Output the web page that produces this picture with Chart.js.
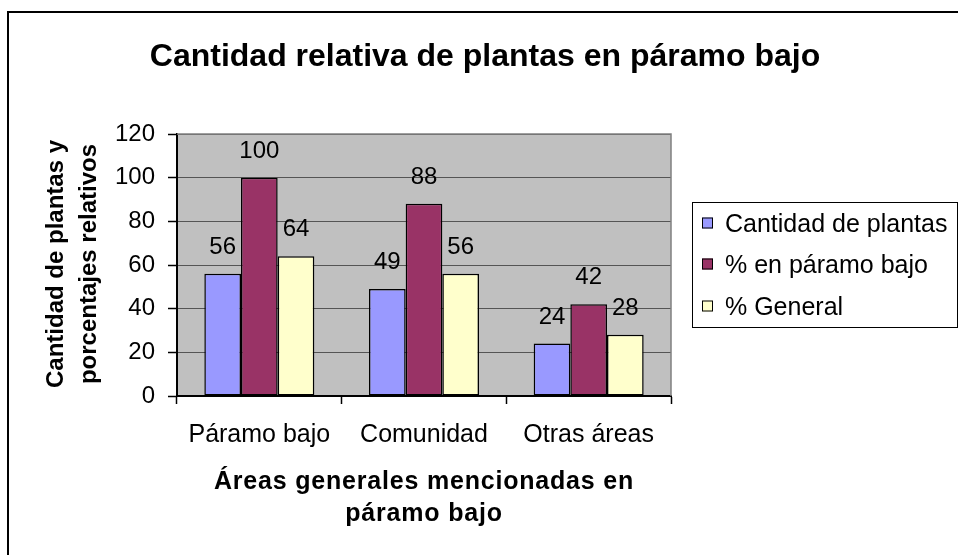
<!DOCTYPE html>
<html><head><meta charset="utf-8">
<script src="https://cdn.jsdelivr.net/npm/chart.js@4/dist/chart.umd.min.js"></script>
<style>html,body{margin:0;padding:0;background:#fff;overflow:hidden}#wrap{position:absolute;left:0;top:0;width:958px;height:555px}</style>
</head><body><div id="wrap"><canvas id="c" width="958" height="555"></canvas></div>
<script>
const chartTitle = 'Cantidad relativa de plantas en páramo bajo';
const categories = ['Páramo bajo', 'Comunidad', 'Otras áreas'];
const seriesNames = ['Cantidad de plantas', '% en páramo bajo', '% General'];
const cantidadPlantas = [56, 49, 24];
const pctParamoBajo = [100, 88, 42];
const pctGeneral = [64, 56, 28];
const yTicks = [0, 20, 40, 60, 80, 100, 120];
const yTitle = ['Cantidad de plantas y', 'porcentajes relativos'];
const xTitle = ['Áreas generales mencionadas en', 'páramo bajo'];
const seriesColors = ['#9999FF', '#993366', '#FFFFCC'];

const FONT = "'Liberation Sans', Arial, Helvetica, sans-serif";
Chart.defaults.font.family = FONT;
Chart.defaults.color = '#000';

const decor = {
  id: 'decor',
  beforeDraw(chart) {
    const {ctx, chartArea: a} = chart;
    ctx.save();
    ctx.fillStyle = '#fff';
    ctx.fillRect(0, 0, chart.width, chart.height);
    ctx.fillStyle = '#C0C0C0';
    ctx.fillRect(a.left, a.top, a.right - a.left, a.bottom - a.top);
    ctx.restore();
  },
  afterDatasetsDraw(chart) {
    const ctx = chart.ctx;
    ctx.save();
    ctx.font = '24px ' + FONT;
    ctx.fillStyle = '#000';
    ctx.textAlign = 'center';
    ctx.textBaseline = 'alphabetic';
    chart.data.datasets.forEach((ds, i) => {
      chart.getDatasetMeta(i).data.forEach((el, j) => {
        ctx.fillText(String(ds.data[j]), el.x, el.y - 20);
      });
    });
    ctx.restore();
  },
  afterDraw(chart) {
    const {ctx, chartArea: a} = chart;
    ctx.save();
    // plot area top/right border
    ctx.strokeStyle = '#808080';
    ctx.lineWidth = 1.5;
    ctx.beginPath();
    ctx.moveTo(a.left, a.top);
    ctx.lineTo(a.right, a.top);
    ctx.lineTo(a.right, a.bottom);
    ctx.stroke();
    // outer frame
    ctx.strokeStyle = '#000';
    ctx.lineWidth = 2;
    ctx.strokeRect(8, 12, 1100, 700);
    // title
    ctx.fillStyle = '#000';
    ctx.textAlign = 'center';
    ctx.textBaseline = 'alphabetic';
    ctx.font = 'bold 32px ' + FONT;
    ctx.fillText(chartTitle, 485, 66);
    // y axis title
    ctx.font = 'bold 24px ' + FONT;
    ctx.textBaseline = 'middle';
    const yc = 264;
    [56, 89].forEach((x, i) => {
      ctx.save();
      ctx.translate(x, yc);
      ctx.rotate(-Math.PI / 2);
      ctx.fillText(yTitle[i], 0, 0);
      ctx.restore();
    });
    // x axis title
    ctx.textBaseline = 'alphabetic';
    ctx.font = 'bold 25px ' + FONT;
    if ('letterSpacing' in ctx) ctx.letterSpacing = '0.8px';
    const xc = (a.left + a.right) / 2;
    ctx.fillText(xTitle[0], xc, 489);
    ctx.fillText(xTitle[1], xc, 521);
    if ('letterSpacing' in ctx) ctx.letterSpacing = '0px';
    // legend
    ctx.strokeStyle = '#000';
    ctx.lineWidth = 1;
    ctx.strokeRect(692.5, 202.5, 265, 125);
    ctx.font = '25px ' + FONT;
    ctx.textAlign = 'left';
    const baselines = [232, 273, 315];
    chart.data.datasets.forEach((ds, i) => {
      const b = baselines[i];
      ctx.fillStyle = ds.backgroundColor;
      ctx.fillRect(702, b - 14.5, 11, 11);
      ctx.strokeStyle = '#000';
      ctx.strokeRect(702.5, b - 14, 10, 10);
      ctx.fillStyle = '#000';
      ctx.fillText(ds.label, 725, b);
    });
    ctx.restore();
  }
};

const mk = (i, data) => ({
  label: seriesNames[i], data, backgroundColor: seriesColors[i],
  borderColor: '#000', borderWidth: 1.5, borderSkipped: false,
  categoryPercentage: 0.668, barPercentage: 1
});

new Chart(document.getElementById('c'), {
  type: 'bar',
  data: {
    labels: categories,
    datasets: [mk(0, cantidadPlantas), mk(1, pctParamoBajo), mk(2, pctGeneral)]
  },
  options: {
    responsive: false, animation: false, devicePixelRatio: 1,
    layout: {padding: {top: 134, right: 287, left: 0, bottom: 0}},
    plugins: {legend: {display: false}, title: {display: false}, tooltip: {enabled: false}},
    scales: {
      x: {
        grid: {display: true, drawOnChartArea: false, drawTicks: true, tickLength: 8, tickColor: '#000', tickWidth: 1.5, offset: true},
        border: {display: true, color: '#000', width: 2},
        ticks: {font: {size: 25}, color: '#000', padding: 16, maxRotation: 0, autoSkip: false},
        afterFit: s => { s.height = 159; }
      },
      y: {
        min: 0, max: 120,
        afterBuildTicks: s => { s.ticks = yTicks.map(v => ({value: v})); },
        ticks: {font: {size: 24}, color: '#000', padding: 13},
        grid: {color: '#555', lineWidth: 1, tickLength: 9, tickColor: '#000', tickWidth: 1.5, drawTicks: true},
        border: {color: '#000', width: 2},
        afterFit: s => { s.width = 177; }
      }
    }
  },
  plugins: [decor]
});
</script></body></html>
